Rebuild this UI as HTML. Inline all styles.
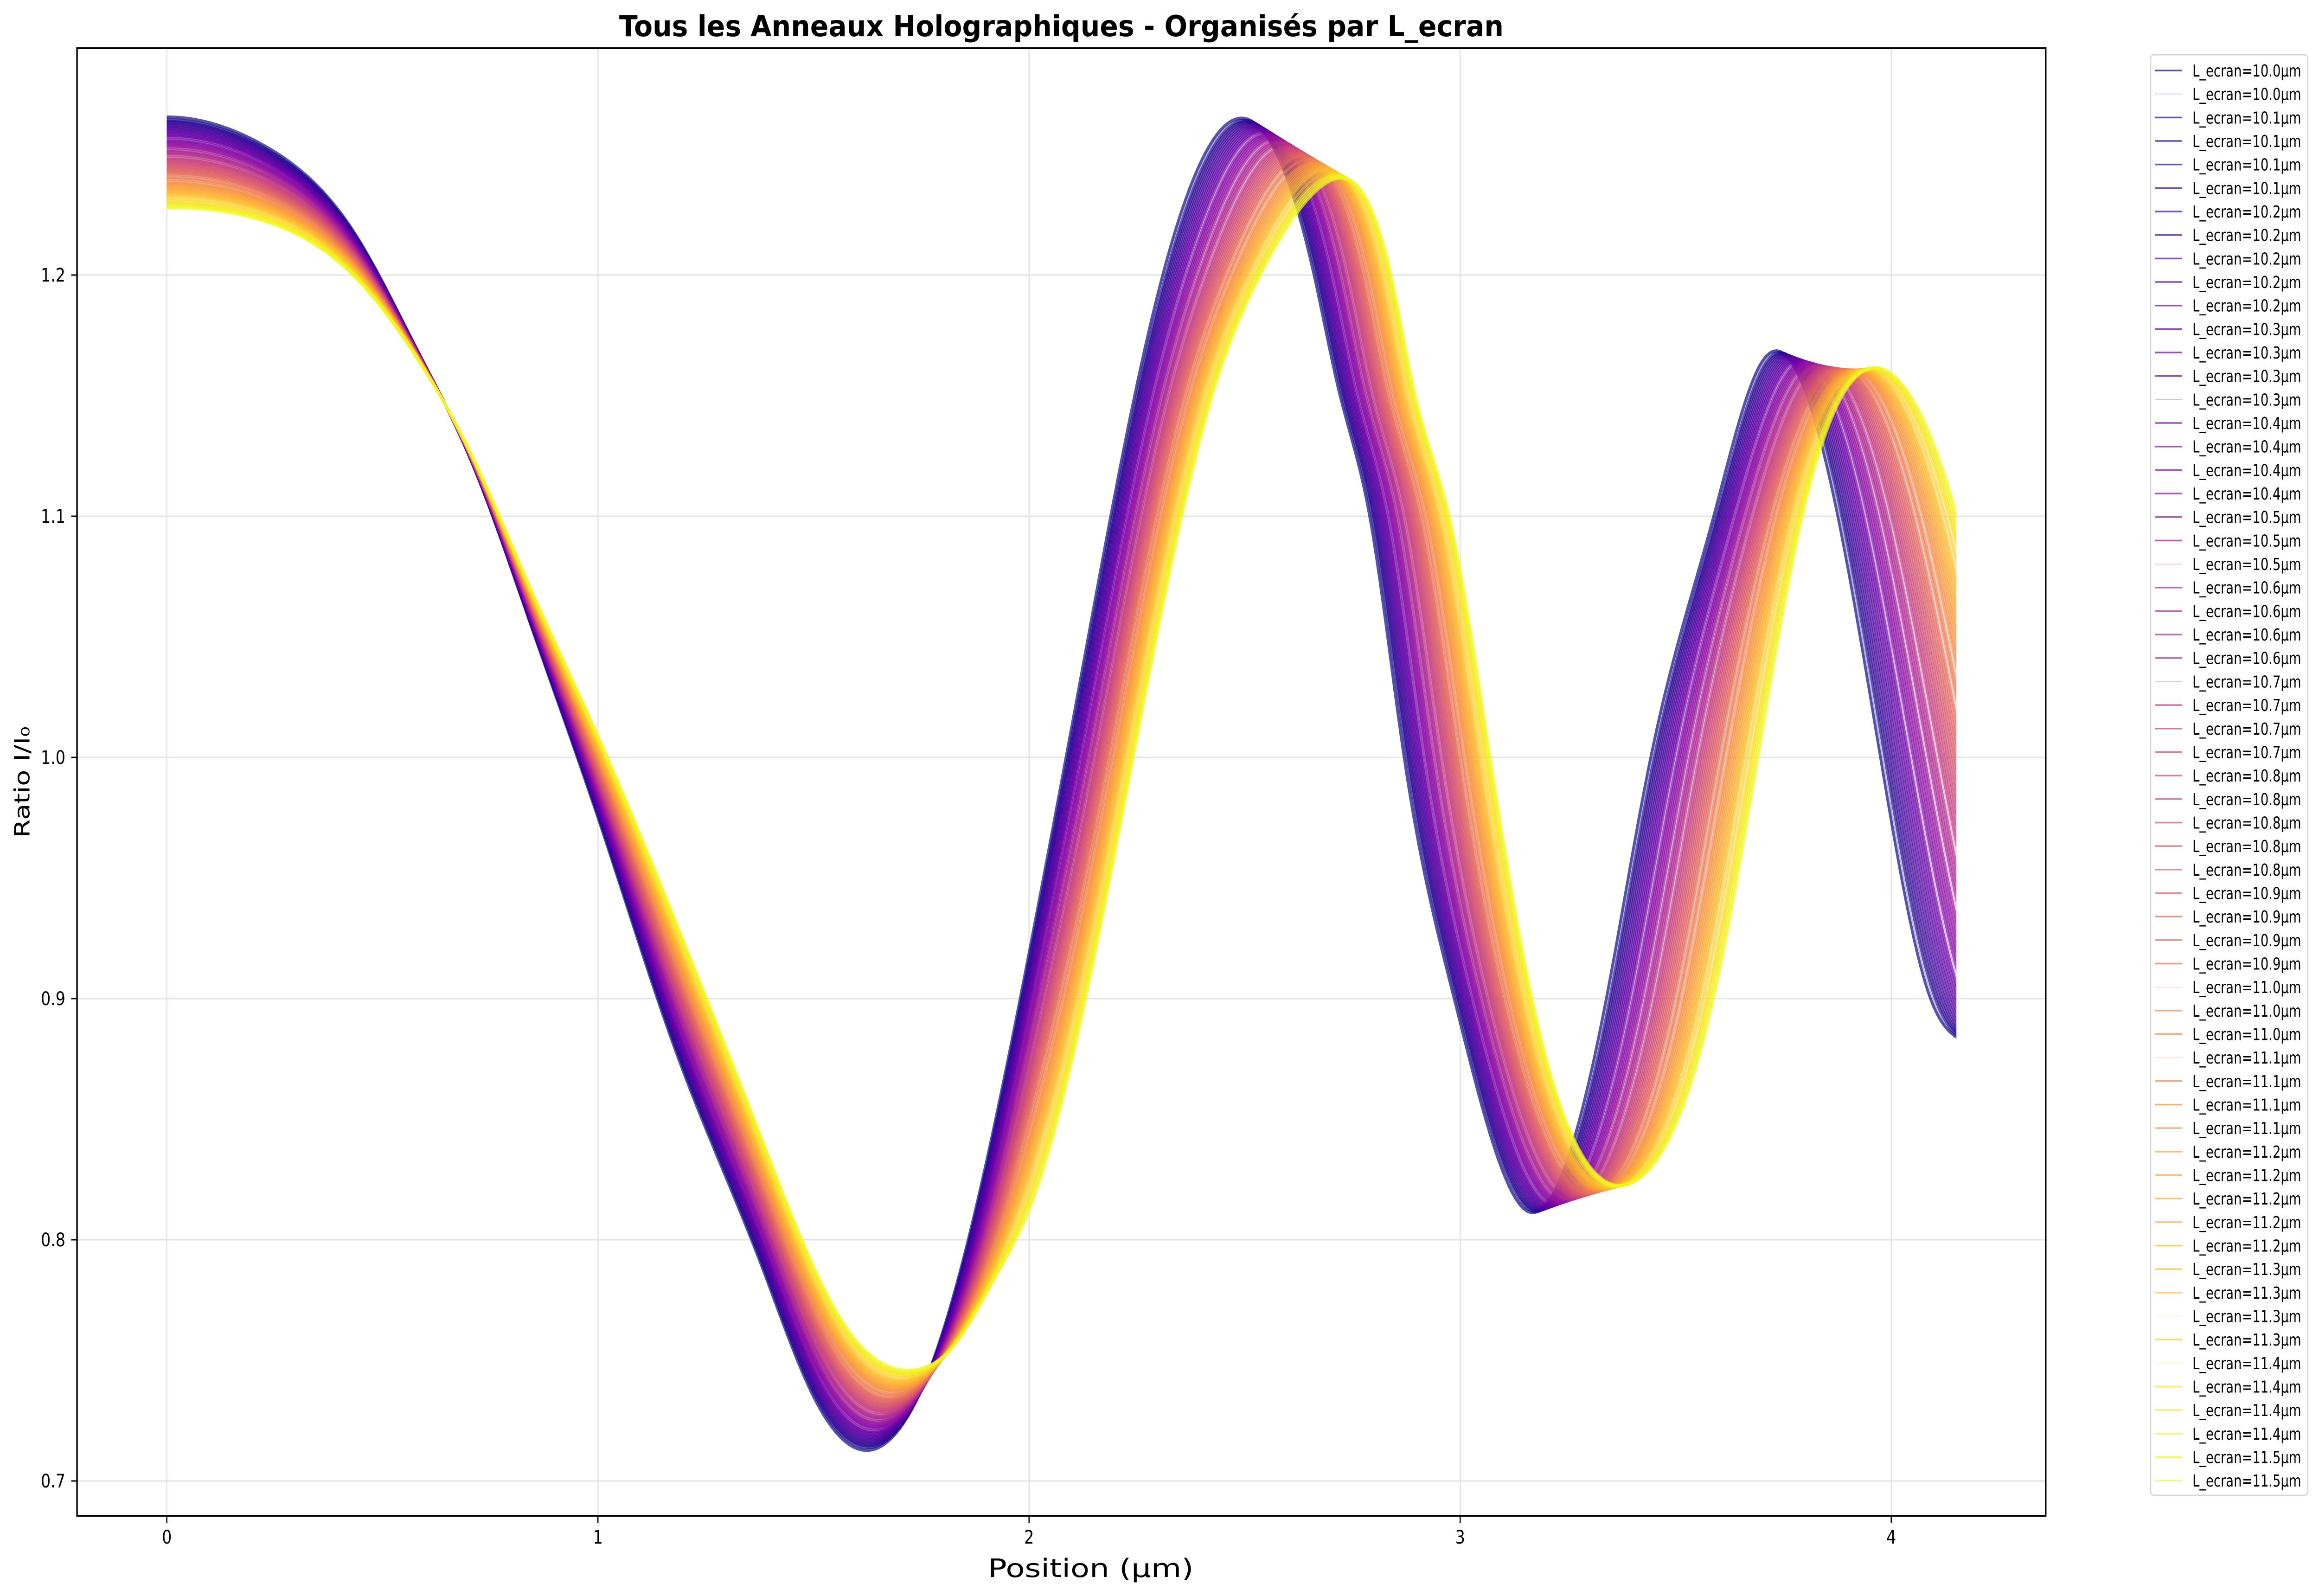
<!DOCTYPE html>
<html><head><meta charset="utf-8"><style>
html,body{margin:0;padding:0;background:#fff;overflow:hidden;width:100vw;height:100vh;}
svg{display:block;width:100vw;height:100vh;font-family:"DejaVu Sans","Liberation Sans",sans-serif;}
</style></head><body>
<svg id="chart" viewBox="0 0 5991 3441" preserveAspectRatio="none" xmlns="http://www.w3.org/2000/svg">
<rect x="0" y="0" width="5991" height="3441" fill="#fff"/>
<defs><clipPath id="plotclip"><rect id="cliprect" x="199" y="104" width="5086" height="3164"/></clipPath></defs>
<g id="grid"></g>
<g id="curves" clip-path="url(#plotclip)"></g>
<rect x="199" y="104" width="5086" height="3164" fill="none" stroke="#000" stroke-width="4"/>
<g id="ticks"></g>
<text x="2742" y="78" text-anchor="middle" font-size="62" font-weight="bold" textLength="2285" lengthAdjust="spacingAndGlyphs">Tous les Anneaux Holographiques - Organisés par L_ecran</text>
<text x="2818" y="3400" text-anchor="middle" font-size="54" textLength="531" lengthAdjust="spacingAndGlyphs">Position (µm)</text>
<text x="0" y="0" transform="translate(76,1686) rotate(-90)" text-anchor="middle" font-size="54" textLength="240" lengthAdjust="spacingAndGlyphs">Ratio I/I₀</text>
<g id="legend"></g>
</svg>
<script>
// Key series: knots [x, y] for L_ecran = 10.0 (first) and 11.5 (last)
const seriesFirstX = [0,0.232,0.437,0.575,0.708,0.844,1.0,1.185,1.38,1.5,1.594,1.769,1.867,2.0,2.127,2.246,2.31,2.489,2.661,2.72,2.79,2.87,2.986,3.154,3.339,3.442,3.588,3.70,3.876,3.975,4.091,4.17];
const seriesFirstY = [1.2655,1.253,1.217,1.171,1.122,1.055,0.975,0.876,0.789,0.735,0.714,0.746,0.806,0.919,1.040,1.151,1.2,1.265,1.2,1.151,1.1,1.0,0.9,0.812,0.9,1.0,1.1,1.164,1.1,1.0,0.9,0.882];
const seriesLastX = [0,0.232,0.437,0.575,0.708,0.844,1.0,1.185,1.38,1.575,1.730,1.82,1.93,2.0,2.127,2.427,2.537,2.688,2.84,2.895,2.975,3.07,3.167,3.403,3.588,3.691,3.794,4.001,4.151,4.28,4.42,4.60];
const seriesLastY = [1.228,1.222,1.199,1.167,1.125,1.070,1.009,0.930,0.842,0.764,0.746,0.755,0.787,0.812,0.896,1.151,1.2,1.238,1.2,1.151,1.1,1.0,0.9,0.824,0.9,1.0,1.1,1.159,1.101,1.0,0.9,0.85];
const legendLabels = ["10.0","10.0","10.1","10.1","10.1","10.1","10.2","10.2","10.2","10.2","10.2","10.3","10.3","10.3","10.3","10.4","10.4","10.4","10.4","10.5","10.5","10.5","10.6","10.6","10.6","10.6","10.7","10.7","10.7","10.7","10.8","10.8","10.8","10.8","10.8","10.9","10.9","10.9","10.9","11.0","11.0","11.0","11.1","11.1","11.1","11.1","11.2","11.2","11.2","11.2","11.2","11.3","11.3","11.3","11.3","11.4","11.4","11.4","11.4","11.5","11.5"];
const faintIdx = [1,14,21,26,39,42,53,55];
const xTicks = [0,1,2,3,4];
const yTicks = [0.7,0.8,0.9,1.0,1.1,1.2];
const xMax = 4.151;

const NS="http://www.w3.org/2000/svg";
const L=199,R=5285,T=104,B=3268;
function sx(v){return 431+v*1113.75;}
function sy(v){return 593-(v-1.2)*5200;}
function mk(tag,attrs,parent){const e=document.createElementNS(NS,tag);for(const k in attrs)e.setAttribute(k,attrs[k]);parent.appendChild(e);return e;}
const stops=[[13,8,135],[65,4,157],[106,0,168],[143,13,164],[177,42,144],[204,71,120],[225,100,98],[242,132,75],[252,166,54],[252,206,37],[240,249,33]];
function plasma(t){t=Math.max(0,Math.min(1,t));const f=t*10,i=Math.min(9,Math.floor(f)),u=f-i;const a=stops[i],b=stops[i+1];return 'rgb('+a.map((c,k)=>Math.round(c+(b[k]-c)*u)).join(',')+')';}

document.getElementById('cliprect').setAttribute('width',sx(xMax)-L);

const grid=document.getElementById('grid'),ticks=document.getElementById('ticks');
xTicks.forEach(v=>{
  const g=mk('line',{x1:sx(v),x2:sx(v),y1:T,y2:B,stroke:'#e3e3e3','stroke-width':3},grid);
  
  
  const t=mk('line',{x1:sx(v),x2:sx(v),y1:B,y2:B+15,stroke:'#000','stroke-width':3},ticks);
  
  
  const tx=mk('text',{x:sx(v),y:B+60,'text-anchor':'middle','font-size':40},ticks);
  
  
  tx.textContent=String(v);
});
yTicks.forEach(v=>{
  const g=mk('line',{x1:L,x2:R,y1:sy(v),y2:sy(v),stroke:'#e3e3e3','stroke-width':3},grid);
  
  
  const t=mk('line',{x1:L-15,x2:L,y1:sy(v),y2:sy(v),stroke:'#000','stroke-width':3},ticks);
  
  
  const tx=mk('text',{x:L-30,y:sy(v)+14,'text-anchor':'end','font-size':40},ticks);
  
  
  tx.textContent=v.toFixed(1);
});

// cubic spline: clamped (slope 0) at start, natural at end
function splinePath(xs,ys){
  const n=xs.length,h=[];
  for(let i=0;i<n-1;i++)h.push(xs[i+1]-xs[i]);
  const a=new Array(n).fill(0),b=new Array(n).fill(0),c=new Array(n).fill(0),r=new Array(n).fill(0);
  b[0]=2*h[0];c[0]=h[0];r[0]=6*((ys[1]-ys[0])/h[0]-0);
  for(let i=1;i<n-1;i++){a[i]=h[i-1];b[i]=2*(h[i-1]+h[i]);c[i]=h[i];r[i]=6*((ys[i+1]-ys[i])/h[i]-(ys[i]-ys[i-1])/h[i-1]);}
  b[n-1]=1;r[n-1]=0;
  for(let i=1;i<n;i++){const w=a[i]/b[i-1];b[i]-=w*c[i-1];r[i]-=w*r[i-1];}
  const M=new Array(n);M[n-1]=r[n-1]/b[n-1];
  for(let i=n-2;i>=0;i--)M[i]=(r[i]-c[i]*M[i+1])/b[i];
  let d='';
  for(let i=0;i<n-1;i++){
    const steps=20;
    for(let s=(i===0?0:1);s<=steps;s++){
      const u=s/steps,x=xs[i]+u*h[i],A=1-u,Bv=u;
      const y=A*ys[i]+Bv*ys[i+1]+((A*A*A-A)*M[i]+(Bv*Bv*Bv-Bv)*M[i+1])*h[i]*h[i]/6;
      d+=(d?' L':'M')+sx(x).toFixed(1)+','+sy(y).toFixed(1);
    }
  }
  return d;
}
const curves=document.getElementById('curves');
const N=legendLabels.length;
for(let i=0;i<N;i++){
  const t=i/(N-1);
  const xs=seriesFirstX.map((x,k)=>x+(seriesLastX[k]-x)*t);
  const ys=seriesFirstY.map((y,k)=>y+(seriesLastY[k]-y)*t);
  const faint=faintIdx.includes(i);
  const p=mk('path',{d:splinePath(xs,ys),fill:'none',stroke:plasma(t),'stroke-width':faint?3:7,'stroke-opacity':faint?0.3:0.7,'stroke-linejoin':'round'},curves);
  
  
}

const lg=document.getElementById('legend');
const box=mk('rect',{x:5556,y:118,width:406,height:3106,rx:9,fill:'#fff','fill-opacity':0.8,stroke:'#d6d6d6','stroke-width':3},lg);


for(let i=0;i<N;i++){
  const y=152+i*50.67,t=i/(N-1),faint=faintIdx.includes(i);
  const ln=mk('line',{x1:5568,x2:5637,y1:y,y2:y,stroke:plasma(t),'stroke-width':faint?1.5:3.5,'stroke-opacity':faint?0.3:0.7},lg);
  
  
  const tx=mk('text',{x:5664,y:y+13,'font-size':36,textLength:281,lengthAdjust:'spacingAndGlyphs'},lg);
  
  
  tx.textContent='L_ecran='+legendLabels[i]+'µm';
}
</script>
</body></html>
